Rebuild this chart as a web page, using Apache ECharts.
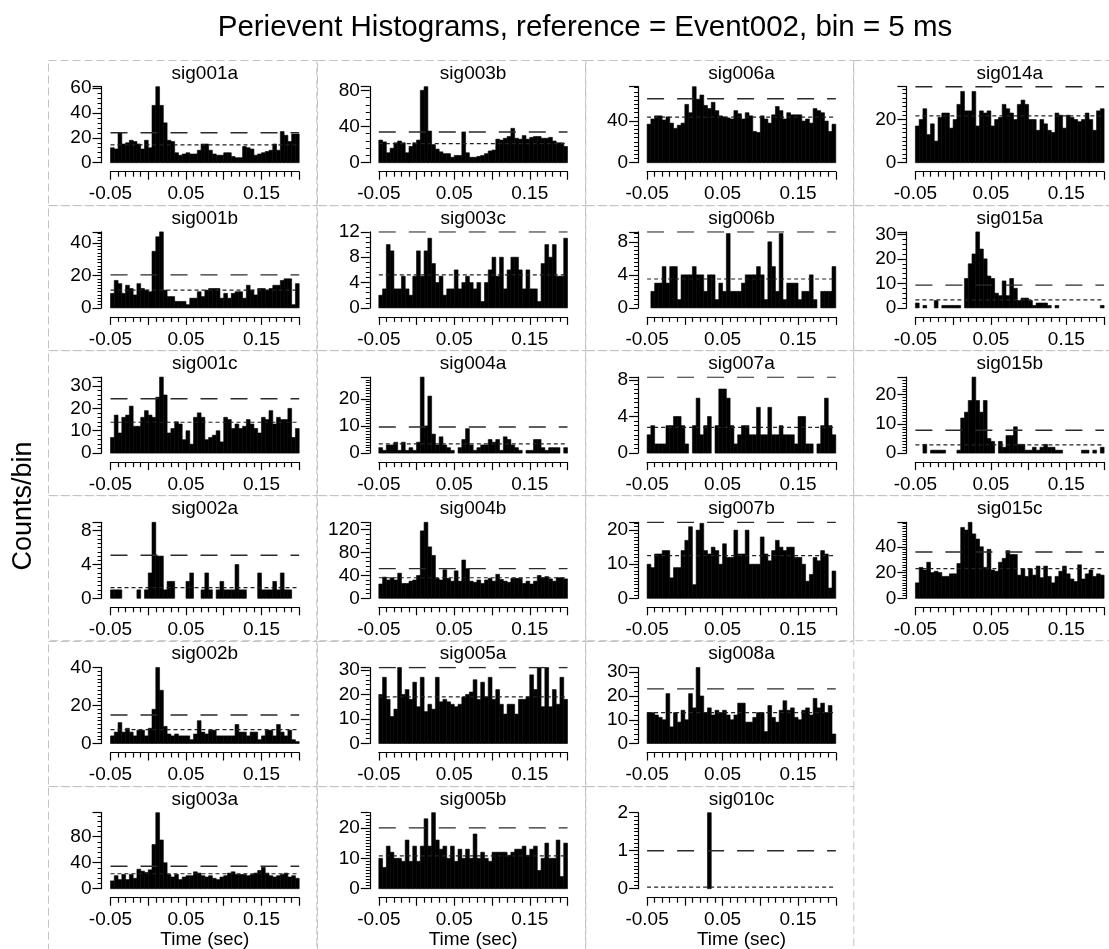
<!DOCTYPE html>
<html>
<head>
<meta charset="utf-8">
<script src="https://cdn.jsdelivr.net/npm/echarts@6/dist/echarts.min.js"></script>
<style>
html,body{margin:0;padding:0;background:#fff;}
#chart{width:1109px;height:949px;}
</style>
</head>
<body>
<div id="chart"></div>
<script>
// ---------- DATA ----------
const mainTitle = 'Perievent Histograms, reference = Event002, bin = 5 ms';
const yAxisTitle = 'Counts/bin';
const xAxisTitle = 'Time (sec)';

// panel names, column by column
const panelNames = [
  'sig001a','sig001b','sig001c','sig002a','sig002b','sig003a',
  'sig003b','sig003c','sig004a','sig004b','sig005a','sig005b',
  'sig006a','sig006b','sig007a','sig007b','sig008a','sig010c',
  'sig014a','sig015a','sig015b','sig015c'
];
const columnLengths = [6, 6, 6, 4];

// histogram bins: 50 bins of 5 ms from -0.05 s
const binStart = -0.05;
const binWidth = 0.005;

const sig001a = [12,11,24,15,16,18,17,15,11,18, 12,46,61,46,32,18,17,8,6,7, 8,7,7,10,15,15,10,7,6,6, 8,8,5,4,4,13,12,11,6,7, 8,9,10,15,10,25,22,17,23,23];
const sig001b = [9,17,15,9,14,12,8,15,12,11, 10,35,44,47,11,7,7,4,4,4, 2,6,6,10,7,11,12,12,12,6, 9,6,9,10,10,6,14,11,8,12, 12,11,12,14,14,17,18,18,2,15];
const sig001c = [7,17,9,16,17,21,12,12,16,19, 17,16,25,34,26,9,11,14,13,6, 10,4,16,18,16,6,7,8,10,5, 16,15,11,13,11,12,15,13,11,9, 16,15,19,13,16,15,15,20,7,11];
const sig002a = [1,1,1,0,0,0,0,1,0,1, 3,9,5,5,1,2,2,0,0,0, 2,3,0,0,1,3,1,0,1,2, 1,1,1,4,1,1,0,0,0,3, 1,1,1,2,1,3,1,1,0,0];
const sig002b = [4,6,11,6,8,6,4,7,7,4, 8,18,40,28,9,5,4,5,4,4, 4,2,5,12,6,5,7,7,4,4, 4,4,4,10,6,6,4,6,6,2, 4,7,7,4,10,6,4,7,2,1];
const sig003a = [12,20,14,22,14,22,16,30,27,25, 29,68,117,75,40,22,18,22,14,18, 20,20,26,24,20,18,20,16,14,18, 20,24,26,22,22,22,20,22,24,28, 33,24,20,18,20,22,24,18,20,16];
const sig003b = [25,23,11,16,22,24,22,11,18,22, 25,80,84,35,20,15,12,10,10,6, 8,8,34,11,6,6,7,8,10,13, 14,26,25,27,29,38,27,26,30,26, 28,29,29,27,27,28,24,22,22,18];
const sig003c = [2,3,10,9,3,3,5,3,2,5, 9,5,9,11,7,4,5,2,3,3, 6,3,4,5,4,3,4,1,4,6, 8,5,8,3,6,8,8,6,3,6, 3,3,1,7,10,8,10,5,5,11];
const sig004a = [2,1,3,3,4,1,4,1,2,1, 4,28,10,21,7,3,6,3,2,1, 0,2,5,9,3,1,2,3,3,5, 4,5,1,6,5,3,2,1,0,1, 1,5,5,2,1,2,2,2,0,2];
const sig004b = [25,37,32,36,32,44,26,26,30,32, 40,118,133,90,75,35,32,50,35,30, 48,30,67,52,30,28,32,26,32,35, 30,42,33,30,28,35,35,35,26,30, 25,30,40,36,38,34,30,36,36,34];
const sig005a = [20,27,18,11,14,31,20,22,18,25, 15,27,13,16,14,27,17,18,17,16, 15,16,19,20,21,26,18,25,19,27, 18,22,16,12,16,16,12,18,18,19, 28,22,31,15,31,15,22,16,27,18];
const sig005b = [10,7,14,12,10,10,9,16,9,14, 9,14,23,14,25,16,13,14,10,14, 9,13,10,13,10,18,10,12,10,9, 12,12,12,12,11,12,13,13,14,11, 13,14,6,10,15,10,10,16,4,15];
const sig006a = [37,42,45,45,41,44,38,33,36,38, 56,48,73,61,65,55,52,58,50,45, 44,43,42,50,47,42,48,45,30,29, 45,42,38,46,54,50,42,48,46,46, 46,40,42,38,52,50,48,40,30,37];
const sig006b = [0,2,3,3,5,3,5,5,1,4, 4,4,5,4,4,2,4,4,1,3, 2,9,2,2,2,3,4,4,4,5, 4,1,8,5,2,9,1,3,3,3, 1,2,2,4,1,0,2,2,2,5];
const sig007a = [2,3,1,1,1,3,3,4,4,3, 1,0,3,6,2,3,4,0,3,7, 7,6,3,1,2,3,3,2,2,5, 2,2,5,2,2,3,2,2,2,1, 4,4,1,1,0,1,3,6,3,2];
const sig007b = [10,9,13,13,14,14,6,9,9,14, 17,21,4,20,22,14,13,15,14,10, 16,12,12,20,13,13,20,10,10,10, 18,13,11,14,17,15,14,15,15,12, 12,10,5,7,12,11,14,13,3,8];
const sig008a = [13,13,12,11,10,21,7,13,9,14, 10,21,15,32,20,13,15,12,14,13, 14,12,10,12,17,17,9,9,11,13, 13,5,16,11,9,14,18,14,15,11, 10,14,15,12,19,15,17,13,16,4];
const sig010c = [0,0,0,0,0,0,0,0,0,0, 0,0,0,0,0,0,2,0,0,0, 0,0,0,0,0,0,0,0,0,0, 0,0,0,0,0,0,0,0,0,0, 0,0,0,0,0,0,0,0,0,0];
const sig014a = [17,20,25,13,18,10,21,23,23,16, 20,27,33,24,24,33,17,24,23,24, 17,20,21,27,25,23,20,27,29,27, 20,20,15,20,18,15,14,23,22,16, 22,21,20,19,20,23,20,15,24,25];
const sig015a = [2,0,1,0,0,3,0,1,1,1, 1,1,0,12,18,22,31,24,20,13, 12,6,5,11,5,12,8,3,4,4, 3,1,2,2,2,1,0,1,0,0, 0,0,0,0,0,0,0,0,0,1];
const sig015b = [0,0,3,0,1,1,1,1,0,0, 0,1,12,14,18,26,18,14,18,5, 4,0,4,2,6,6,9,3,3,1, 1,2,1,2,3,2,2,1,1,0, 0,0,0,0,1,1,0,1,0,2];
const sig015c = [12,24,22,28,20,21,20,17,17,19, 19,27,55,53,59,50,46,40,24,38, 22,21,28,31,37,34,34,18,23,17, 23,18,25,16,25,17,12,17,21,25, 19,15,13,26,15,19,22,17,19,18];

// confidence lines (upper = long dash, lower = short dash), same order as panelNames
const upperLine = [24,20.4,24.3,5.1,15,34.5, 34,12,9.6,52,31,20, 61.4,9.2,8.3,22.3,23,1, 35.2,9.3,7.8,36];
const lowerLine = [14.3,11,13.8,1.27,7.3,23, 21,5.2,3.4,36,19,10.8, 43.8,3.5,2.8,12.5,13,0.04, 21.7,3.3,2.8,23];

// y tick label step and minor tick split per panel
const yTickStep = [20,20,10,4,20,40, 40,4,10,40,10,10, 40,4,4,10,10,1, 20,10,10,20];
const yMinorSplit = [5,10,5,8,10,5, 5,5,10,5,5,10, 10,8,8,10,5,10, 10,5,10,10];

// x tick labels
const xTickValues = [-0.05, 0.05, 0.15];
const xTickLabels = ['-0.05', '0.05', '0.15'];

const panelCounts = [sig001a,sig001b,sig001c,sig002a,sig002b,sig003a,
  sig003b,sig003c,sig004a,sig004b,sig005a,sig005b,
  sig006a,sig006b,sig007a,sig007b,sig008a,sig010c,
  sig014a,sig015a,sig015b,sig015c];

// ---------- LAYOUT ----------
const FONT = '"Liberation Sans", Arial, sans-serif';
const BOX_L = 48.3, BOX_T = 59.7, COL_W = 268.3, ROW_H = 145.2;
const PLOT_DX = 62.2, PLOT_W = 188.7, PLOT_DY = 27, PLOT_H = 76;
const SMALL = 19;
const nBins = panelCounts[0].length;
const xMin = binStart, xMax = binStart + nBins * binWidth;

const grids = [], xAxes = [], yAxes = [], series = [], graphics = [];

let p = 0;
columnLengths.forEach((len, c) => {
  for (let r = 0; r < len; r++, p++) {
    const L = BOX_L + c * COL_W;
    const T = BOX_T + r * ROW_H;
    const data = panelCounts[p];
    const yMax = Math.max(Math.max.apply(null, data), upperLine[p]);
    const step = yTickStep[p];
    const lastRow = (r === len - 1) && len === 6;

    // dashed cell box
    graphics.push({
      type: 'rect', silent: true, z: 0,
      shape: { x: Math.round(L) + 0.5, y: Math.round(T) + 0.5, width: COL_W, height: lastRow ? 960 - T : ROW_H },
      style: { fill: 'none', stroke: '#c3c3c3', lineWidth: 1, lineDash: [8, 4] }
    });
    // panel title
    graphics.push({
      type: 'text', silent: true, z: 10,
      x: L + PLOT_DX + PLOT_W / 2, y: T + 13.6,
      style: { text: panelNames[p], font: SMALL + 'px ' + FONT, fill: '#000', align: 'center', verticalAlign: 'middle' }
    });
    if (lastRow) {
      graphics.push({
        type: 'text', silent: true, z: 10,
        x: L + PLOT_DX + PLOT_W / 2, y: 940,
        style: { text: xAxisTitle, font: SMALL + 'px ' + FONT, fill: '#000', align: 'center', verticalAlign: 'middle' }
      });
    }

    grids.push({ left: L + PLOT_DX, top: T + PLOT_DY, width: PLOT_W, height: PLOT_H, containLabel: false });
    xAxes.push({
      gridIndex: p, type: 'value', min: xMin, max: xMax, interval: 0.05, position: 'bottom', offset: 9,
      axisLine: { show: true, onZero: false, lineStyle: { color: '#000', width: 1.2 } },
      axisTick: { show: true, length: 8, lineStyle: { color: '#000', width: 1.2 } },
      minorTick: { show: true, splitNumber: 5, length: 5, lineStyle: { color: '#000', width: 1.2 } },
      splitLine: { show: false },
      axisLabel: {
        show: true, margin: 13, color: '#000', fontSize: SMALL, fontFamily: FONT,
        formatter: function (v) {
          for (let k = 0; k < xTickValues.length; k++) {
            if (Math.abs(v - xTickValues[k]) < 1e-9) return xTickLabels[k];
          }
          return '';
        }
      }
    });
    yAxes.push({
      gridIndex: p, type: 'value', min: 0, max: yMax, interval: step, position: 'left', offset: 9,
      axisLine: { show: true, onZero: false, lineStyle: { color: '#000', width: 1.2 } },
      axisTick: { show: true, length: 9, lineStyle: { color: '#000', width: 1.2 } },
      minorTick: { show: true, splitNumber: yMinorSplit[p], length: 4, lineStyle: { color: '#000', width: 1 } },
      splitLine: { show: false },
      axisLabel: {
        show: true, margin: 10, color: '#000', fontSize: SMALL, fontFamily: FONT,
        formatter: (function (st) {
          return function (v) {
            const q = v / st;
            return Math.abs(q - Math.round(q)) < 1e-6 ? String(Math.round(q) * st) : '';
          };
        })(step)
      }
    });

    series.push({
      type: 'custom', xAxisIndex: p, yAxisIndex: p, coordinateSystem: 'cartesian2d',
      silent: true, animation: false,
      data: data.map((v, i) => [binStart + i * binWidth, v]),
      encode: { x: 0, y: 1 },
      renderItem: function (params, api) {
        const x0 = api.value(0), v = api.value(1);
        if (!v) return null;
        const a = api.coord([x0, 0]);
        const b = api.coord([x0 + binWidth, v]);
        return {
          type: 'rect',
          shape: { x: a[0], y: b[1], width: b[0] - a[0], height: a[1] - b[1] },
          style: { fill: '#000', stroke: '#000', lineWidth: 0.6 }
        };
      }
    });
    series.push({
      type: 'line', xAxisIndex: p, yAxisIndex: p, symbol: 'none', silent: true, animation: false, z: 5,
      data: [[xMin, upperLine[p]], [xMax, upperLine[p]]],
      lineStyle: { color: '#2a2a2a', width: 1.4, type: [17, 13] }
    });
    series.push({
      type: 'line', xAxisIndex: p, yAxisIndex: p, symbol: 'none', silent: true, animation: false, z: 5,
      data: [[xMin, lowerLine[p]], [xMax, lowerLine[p]]],
      lineStyle: { color: '#222', width: 1.2, type: [4, 3] }
    });
  }
});

graphics.push({
  type: 'text', silent: true, z: 10, x: 585, y: 28,
  style: { text: mainTitle, font: '29.5px ' + FONT, fill: '#000', align: 'center', verticalAlign: 'middle' }
});
graphics.push({
  type: 'text', silent: true, z: 10, x: 24, y: 506, rotation: Math.PI / 2,
  style: { text: yAxisTitle, font: '27px ' + FONT, fill: '#000', align: 'center', verticalAlign: 'middle' }
});

const chart = echarts.init(document.getElementById('chart'), null, { renderer: 'canvas' });
chart.setOption({
  backgroundColor: '#fff',
  animation: false,
  grid: grids,
  xAxis: xAxes,
  yAxis: yAxes,
  series: series,
  graphic: graphics
});
</script>
</body>
</html>
